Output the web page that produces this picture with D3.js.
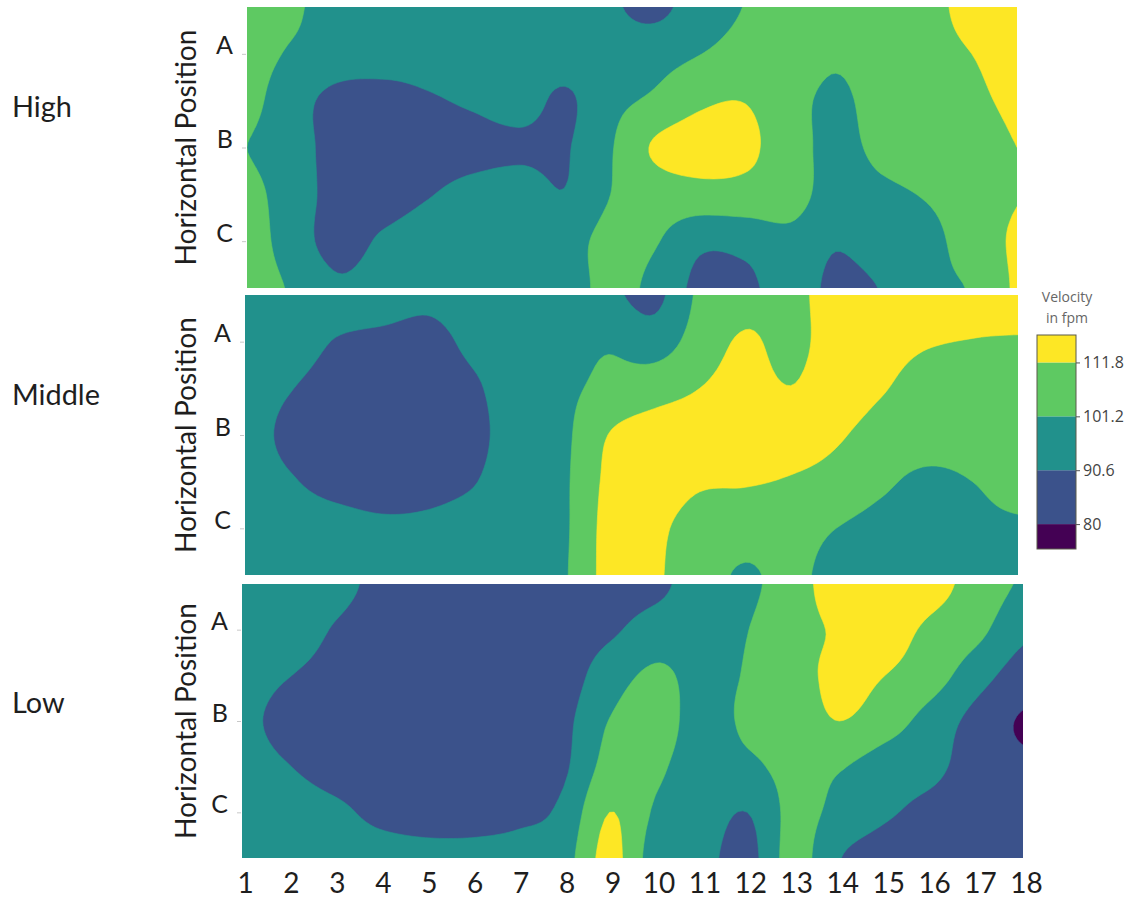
<!DOCTYPE html>
<html><head><meta charset="utf-8">
<script src="https://cdn.jsdelivr.net/npm/d3@7"></script>
<style>body{margin:0;background:#fff;} svg{display:block;}</style>
</head><body>
<svg id="chart" width="1135" height="902"></svg>
<script>
// ---------------- data ----------------
const positions = d3.range(1, 19);              // x: 1..18
const rowLabels = ["A", "B", "C"];              // labelled rows at y = 1, 2, 3
const rowCoords = [0.5, 1, 1.5, 2, 2.5, 3, 3.5]; // sampled vertical positions
const levels = [80, 90.6, 101.2, 111.8];        // contour levels (fpm)
const colorbarRange = [75.1, 117.2];
const panelNames = ["High", "Middle", "Low"];

const highValues = [
  [106, 103, 96, 96, 96, 96, 95, 94, 92, 88, 96, 101.5, 106, 107, 107, 109, 115, 120],
  [105, 100, 96, 95, 95, 96, 96, 95, 95, 97, 101, 105, 107, 103, 107, 109, 111.8, 116],
  [104, 95, 87.5, 87, 89.5, 92, 95, 89, 98, 103, 110, 111.5, 105, 99, 106, 108, 110, 113.5],
  [101.2, 95, 87, 86, 86, 87, 88.5, 89.5, 100, 113, 116, 114, 106, 98, 104, 107, 108, 111.8],
  [104, 96, 87, 86, 90, 94, 96, 91, 101, 106, 108, 108, 106, 96, 99, 102, 107, 111.5],
  [106, 96, 87, 92, 96, 96, 97, 97, 104, 102, 93, 94, 98, 91.5, 96, 98, 106, 113],
  [106, 100, 92, 95, 96, 96, 97, 96, 104, 98.5, 88, 88, 96, 88, 91, 99, 102, 113]
];
const middleValues = [
  [96, 97, 97, 96, 93, 96, 97, 97, 93, 88, 103, 108, 109, 116, 117, 116, 116, 117],
  [96, 96, 90, 88, 87, 93, 97, 98, 100, 96, 106, 113, 109, 116, 115, 112.5, 111.5, 111],
  [96, 91, 86, 85, 85, 89, 96, 99, 104, 107.5, 111.8, 115, 112, 116, 112.5, 108, 108, 108],
  [95, 88, 85, 84, 85, 88, 95, 99, 112, 116, 116, 117, 116, 113, 108, 106, 106, 106],
  [96, 91.5, 87, 85, 87, 90, 96, 99.5, 114, 117, 113, 112.5, 111, 108, 103, 99, 101.2, 104],
  [96, 96, 95, 93, 93, 95, 97, 99.5, 115, 114, 107, 106, 106, 101.2, 98, 96, 99, 100],
  [97, 97, 97, 97, 97, 97, 97, 100, 115, 113, 106, 100, 104, 97, 96, 96, 97, 97]
];
const lowValues = [
  [96, 96, 94, 88, 86, 86, 86, 87, 87, 88, 96, 99, 107, 117, 117, 115, 108, 100],
  [96, 96, 90, 86, 85, 85, 85, 86, 89, 95, 97, 101, 108, 113, 115, 110, 104, 93],
  [96, 91, 87, 85, 85, 85, 85, 86, 96, 103, 98, 102, 108, 114, 111.8, 106, 95, 86],
  [94, 86, 84, 84, 84, 84, 85, 88, 101.5, 106, 97, 103, 106, 111.8, 106, 97, 87, 79],
  [96, 91, 86, 85, 85, 85, 86, 89, 105, 103, 96, 99, 104, 102, 96, 93, 86, 82],
  [96, 96, 93, 88, 86, 86, 88, 93, 111.8, 100, 96, 90.6, 104, 98, 92, 88, 86, 85],
  [96, 96, 96, 95, 94, 94, 95, 97, 115, 96, 94, 87, 105, 91, 86, 85, 85, 85]
];

// ---------------- layout ----------------
const panels = [
  {name: panelNames[0], values: highValues,   x0: 247, x1: 1017, y0: 7,   y1: 288, labelY: 107},
  {name: panelNames[1], values: middleValues, x0: 245, x1: 1018, y0: 295, y1: 575, labelY: 395},
  {name: panelNames[2], values: lowValues,    x0: 242, x1: 1023, y0: 584, y1: 858, labelY: 703}
];
const bandColors = [0, 0.25, 0.5, 0.75, 1].map(d3.interpolateViridis);
const textColor = "#1e1e1e";
const mainFont = "Lato, 'Open Sans', sans-serif";
const cbFont = "'Open Sans', sans-serif";

const svg = d3.select("#chart");
const defs = svg.append("defs");

// Catmull-Rom smoothing used to render smooth contours from the grid
function cr(p0, p1, p2, p3, t) {
  const t2 = t * t, t3 = t2 * t;
  return 0.5 * (2 * p1 + (-p0 + p2) * t + (2 * p0 - 5 * p1 + 4 * p2 - p3) * t2 + (-p0 + 3 * p1 - 3 * p2 + p3) * t3);
}
function sampleRow(row, x) {
  const n = row.length; let i = Math.floor(x); if (i >= n - 1) i = n - 2; const t = x - i;
  const g = k => row[Math.max(0, Math.min(n - 1, k))];
  return cr(g(i - 1), g(i), g(i + 1), g(i + 2), t);
}
function smoothAt(grid, x, y) {
  const m = grid.length; let j = Math.floor(y); if (j >= m - 1) j = m - 2; const t = y - j;
  const g = k => sampleRow(grid[Math.max(0, Math.min(m - 1, k))], x);
  return cr(g(j - 1), g(j), g(j + 1), g(j + 2), t);
}

const SX = 10, SY = 10;
const nCols = positions.length, nRows = rowCoords.length;
const nxf = (nCols - 1) * SX + 1, nyf = (nRows - 1) * SY + 1;

function measureFit(text, targetWidth) {
  const t = svg.append("text").attr("font-family", mainFont).attr("font-size", 100).text(text);
  const w = t.node().getComputedTextLength();
  t.remove();
  return 100 * targetWidth / w;
}
const sideFont = measureFit("Middle", 88);
const hpFont = measureFit("Horizontal Position", 236);

panels.forEach((p, pi) => {
  const xs = d3.scaleLinear().domain([1, 18]).range([p.x0, p.x1]);
  const ys = d3.scaleLinear().domain([0.5, 3.5]).range([p.y0, p.y1]);
  p.xs = xs; p.ys = ys;

  const vals = new Float64Array(nxf * nyf);
  for (let k = 0; k < nyf; k++)
    for (let i = 0; i < nxf; i++)
      vals[k * nxf + i] = smoothAt(p.values, i / SX, k / SY);

  const contours = d3.contours().size([nxf, nyf]).thresholds(levels)(vals);
  const step = (rowCoords[rowCoords.length - 1] - rowCoords[0]) / (nRows - 1);
  const proj = d3.geoTransform({
    point: function (u, v) {
      const xd = positions[0] + (u - 0.5) / SX;
      const yd = rowCoords[0] + (v - 0.5) / SY * step;
      this.stream.point(xs(xd), ys(yd));
    }
  });
  const path = d3.geoPath(proj);

  const clipId = "clip" + pi;
  defs.append("clipPath").attr("id", clipId).append("rect")
    .attr("x", p.x0).attr("y", p.y0).attr("width", p.x1 - p.x0).attr("height", p.y1 - p.y0);

  const g = svg.append("g").attr("clip-path", `url(#${clipId})`);
  g.append("rect").attr("x", p.x0).attr("y", p.y0).attr("width", p.x1 - p.x0).attr("height", p.y1 - p.y0)
    .attr("fill", bandColors[0]);
  g.selectAll("path.band").data(contours).join("path")
    .attr("class", "band")
    .attr("d", path)
    .attr("fill", (d, i) => bandColors[i + 1])
    .attr("fill-rule", "evenodd")
    .attr("stroke", (d, i) => bandColors[i + 1])
    .attr("stroke-width", 0.6);

  // y axis (A, B, C)
  const yAxis = d3.axisLeft(ys).tickValues([1, 2, 3]).tickFormat(d => rowLabels[d - 1])
    .tickSize(4).tickPadding(9);
  const ya = svg.append("g").attr("transform", `translate(${p.x0 - 1},0)`).call(yAxis);
  ya.select(".domain").remove();
  ya.selectAll(".tick line").attr("stroke", "#c8c8c8");
  ya.selectAll(".tick text").attr("font-family", mainFont).attr("font-size", 25)
    .attr("fill", textColor).attr("dy", "0.32em").attr("y", -8);

  // axis title
  svg.append("text")
    .attr("transform", `translate(196,${(p.y0 + p.y1) / 2}) rotate(-90)`)
    .attr("text-anchor", "middle")
    .attr("font-family", mainFont).attr("font-size", hpFont).attr("fill", textColor)
    .text("Horizontal Position");

  // side label
  svg.append("text").attr("x", 12).attr("y", p.labelY).attr("dy", "0.35em")
    .attr("font-family", mainFont).attr("font-size", sideFont).attr("fill", textColor)
    .text(p.name);
});

// x axis under the last panel
const last = panels[panels.length - 1];
const xAxis = d3.axisBottom(last.xs).tickValues(positions).tickSize(0).tickPadding(0);
const xa = svg.append("g").attr("transform", "translate(3,873)").call(xAxis);
xa.select(".domain").remove();
xa.selectAll(".tick text").attr("font-family", mainFont).attr("font-size", 28).attr("fill", textColor);

// ---------------- colorbar ----------------
const cbX = 1037, cbW = 39;
const cb = d3.scaleLinear().domain(colorbarRange).range([549, 335]);
const bounds = [colorbarRange[0], ...levels, colorbarRange[1]];
const cbg = svg.append("g");
cbg.selectAll("rect.seg").data(d3.range(bounds.length - 1)).join("rect")
  .attr("class", "seg")
  .attr("x", cbX).attr("width", cbW)
  .attr("y", i => cb(bounds[i + 1])).attr("height", i => cb(bounds[i]) - cb(bounds[i + 1]))
  .attr("fill", i => bandColors[i]);
cbg.append("rect").attr("x", cbX).attr("y", cb(colorbarRange[1])).attr("width", cbW)
  .attr("height", cb(colorbarRange[0]) - cb(colorbarRange[1]))
  .attr("fill", "none").attr("stroke", "#5a5a4a").attr("stroke-width", 1);
const cbAxis = d3.axisRight(cb).tickValues(levels).tickFormat(d3.format("")).tickSize(4).tickPadding(3);
const cba = svg.append("g").attr("transform", `translate(${cbX + cbW},0)`).call(cbAxis);
cba.select(".domain").remove();
cba.selectAll(".tick line").attr("stroke", "#555");
cba.selectAll(".tick text").attr("font-family", cbFont).attr("font-size", 16).attr("fill", "#444");
svg.append("text").attr("x", 1067).attr("y", 302).attr("text-anchor", "middle")
  .attr("font-family", cbFont).attr("font-size", 14).attr("fill", "#666").text("Velocity");
svg.append("text").attr("x", 1067).attr("y", 323).attr("text-anchor", "middle")
  .attr("font-family", cbFont).attr("font-size", 14).attr("fill", "#666").text("in fpm");
</script>
</body></html>
